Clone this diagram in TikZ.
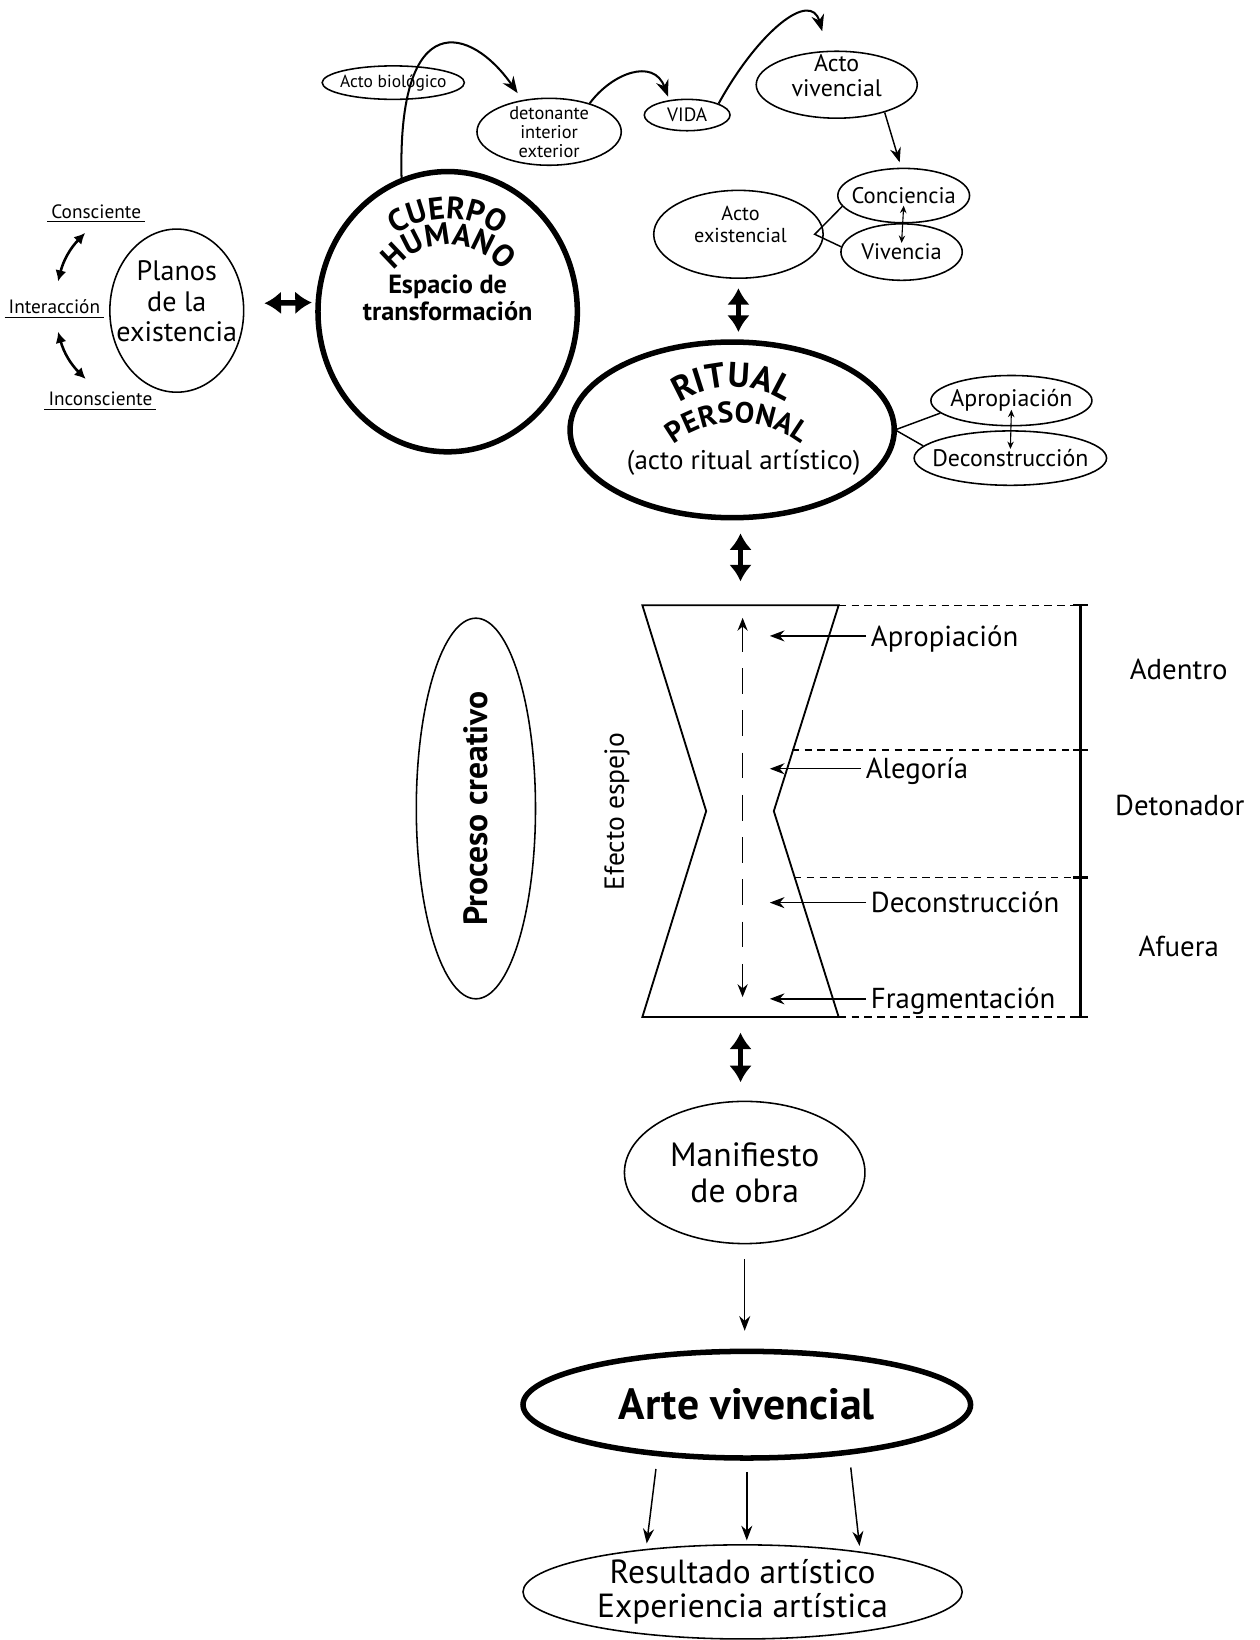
\documentclass[tikz,border=0pt]{standalone}
\usepackage{fontspec}
\setmainfont{PT Sans}
\usetikzlibrary{arrows.meta,shapes.geometric,decorations.text,calc}
\newcommand\fsz[2]{\fontsize{#1}{#2}\selectfont}

\begin{document}
\begin{tikzpicture}[
  x=0.02cm, y=-0.02cm,
  oval/.style={draw, ellipse, line width=0.85pt, inner sep=-6pt, align=center},
  heavy/.style={oval, line width=3pt},
  flow/.style={-{Stealth[length=8pt,width=6pt]}, line width=0.8pt},
  curvy/.style={-{Stealth[length=9pt,width=7pt]}, line width=1.1pt},
  bigflow/.style={{Latex[length=9pt,width=12.5pt]}-{Latex[length=9pt,width=12.5pt]}, line width=3pt},
  sidelink/.style={{Latex[length=6pt,width=6pt]}-{Latex[length=6pt,width=6pt]}, line width=1.4pt},
  twoway/.style={{Stealth[length=4pt,width=3.5pt]}-{Stealth[length=4pt,width=3.5pt]}, line width=0.6pt},
  dashflow/.style={{Stealth[length=7pt,width=5.5pt]}-{Stealth[length=7pt,width=5.5pt]}, dash pattern=on 14pt off 9pt, line width=0.9pt},
  cutline/.style={dash pattern=on 4pt off 3pt, line width=0.8pt},
  brk/.style={line width=1.3pt},
  undl/.style={font=\fsz{10.5}{11}, inner sep=1pt, text height=7.5pt, text depth=0.5pt},
  lbl/.style={anchor=west, inner sep=2.5pt, text height=11pt, text depth=0pt, font=\fsz{15.7}{16}},
  side/.style={font=\fsz{15.7}{16}}
]
\useasboundingbox (0,0) rectangle (1204,1568);

\node[undl] (consc) at (92,203) {Consciente};
\node[undl] (inter) at (52,294) {Interacción};
\node[undl] (incon) at (96,382) {Inconsciente};
\foreach \n in {consc,inter,incon}
  \draw[line width=0.6pt] ([xshift=-1pt]\n.south west) -- ([xshift=1pt]\n.south east);
\draw[sidelink] ([xshift=-6pt,yshift=-6pt]consc.south) to[bend right=15] ([xshift=2pt,yshift=9pt]inter.north);
\draw[sidelink] ([xshift=2pt,yshift=-8pt]inter.south) to[bend right=15] ([xshift=-8pt,yshift=6pt]incon.north);

\node[oval, minimum width=2.56cm, minimum height=3.12cm] (planos) at (169,297) {};
\node[font=\fsz{15.3}{16.5}, align=center] (planostxt) at (169,288) {Planos\\de la\\existencia};
\node[heavy, minimum width=4.96cm, minimum height=5.36cm] (cuerpo) at (428,298) {};
\node[font=\bfseries\fsz{14.3}{14.8}, align=center] (espacio) at (428,285) {Espacio de\\transformación};
\path[decorate, decoration={text along path, text align=center, text={|\bfseries\fsz{17}{17}|CUERPO}}]
  (428,296) ++(170:1.74cm) arc[start angle=170, end angle=10, radius=1.74cm];
\path[decorate, decoration={text along path, text align=center, text={|\bfseries\fsz{17}{17}|HUMANO}}]
  (429,300) ++(170:1.32cm) arc[start angle=170, end angle=10, radius=1.32cm];
\draw[bigflow, shorten <=11pt, shorten >=2pt] (planos.6) -- (cuerpo.176);

\node[oval, minimum width=2.72cm, minimum height=0.64cm, font=\fsz{9.5}{10}] (biolog) at (376,79) {Acto biológico};
\node[oval, minimum width=2.76cm, minimum height=1.28cm, font=\fsz{10}{10.3}] (deton) at (525,126) {detonante\\interior\\exterior};
\node[oval, minimum width=1.64cm, minimum height=0.6cm, font=\fsz{10.5}{11}] (vida) at (657,110) {VIDA};
\node[oval, minimum width=3.08cm, minimum height=1.28cm] (vivencial) at (800,81) {};
\node[font=\fsz{13}{13.7}, align=center] (vivtxt) at (800,72) {Acto\\vivencial};
\node[oval, minimum width=2.52cm, minimum height=1.04cm, font=\fsz{12.3}{13}] (concien) at (864,187) {Conciencia};
\node[oval, minimum width=2.32cm, minimum height=1.08cm, font=\fsz{12.2}{13}] (vivencia) at (862,241) {Vivencia};
\node[oval, minimum width=3.24cm, minimum height=1.68cm] (exist) at (706,224) {};
\node[font=\fsz{11}{12}, align=center] (existtxt) at (708,215) {Acto\\existencial};

\draw[curvy, shorten >=4.5pt] (cuerpo.109) .. controls (380,5) and (450,25) .. (deton.130);
\draw[curvy, shorten >=2pt] (deton.35) .. controls (585,70) and (625,55) .. (vida.140);
\draw[curvy, shorten >=11pt] (vida.20) .. controls (725,30) and (775,-10) .. (vivencial.105);
\draw[flow, shorten >=3pt] (vivencial.-30) -- (concien.95);
\draw[twoway] ([yshift=-5.5pt]concien.center) -- ([yshift=5pt]vivencia.center);
\draw[line width=0.8pt] (concien.190) -- ([xshift=-5pt]exist.east) -- (vivencia.175);

\node[heavy, minimum width=6.2cm, minimum height=3.36cm] (ritual) at (700,411) {};
\draw[bigflow, shorten <=5pt, shorten >=4pt] (exist.south) -- (exist.south |- ritual.north);
\path[decorate, decoration={text along path, text align=center, text={|\bfseries\fsz{19}{19}|RITUAL}}]
  (700,463) ++(160:1.86cm) arc[start angle=160, end angle=20, radius=1.86cm];
\path[decorate, decoration={text along path, text align=center, text={|\bfseries\fsz{16}{16}|PERSONAL}}]
  (705,504) ++(160:2.0cm) arc[start angle=160, end angle=20, radius=2.0cm];
\node[font=\fsz{14.7}{15}] (ritualsub) at (711,442) {(acto ritual artístico)};
\node[oval, minimum width=3.08cm, minimum height=0.96cm, font=\fsz{13}{13}] (apropia) at (967,383) {Apropiación};
\node[oval, minimum width=3.68cm, minimum height=1.04cm, font=\fsz{13}{13}] (decons) at (966,438) {Deconstrucción};
\draw[twoway] ([yshift=-5pt]apropia.center) -- ([yshift=5pt]decons.center);
\draw[line width=0.8pt] (apropia.190) -- ([xshift=-1pt]ritual.east) -- (decons.172);

\node[minimum width=3.74cm, minimum height=7.86cm, inner sep=0pt] (hour) at (708,775.5) {};
\draw[bigflow, shorten <=7pt, shorten >=13pt] (hour.north |- ritual.south) -- (hour.north);
\draw[line width=1pt] (hour.north west) -- (hour.north east) -- ($(hour.east)+(-62,0)$) -- (hour.south east)
  -- (hour.south west) -- ($(hour.west)+(61,0)$) -- cycle;
\draw[dashflow] ($(hour.north)+(2,12)$) -- ($(hour.south)+(2,-19)$);
\node[rotate=90, font=\fsz{15}{15}] (espejo) at (590,776) {Efecto espejo};
\node[oval, rotate=90, minimum width=7.28cm, minimum height=2.28cm, font=\bfseries\fsz{18.3}{19}] (proceso) at (455,773) {Proceso creativo};

\coordinate (bar) at (1033,0);
\coordinate (hx) at (736,0);
\coordinate (cut1) at (757,717);
\coordinate (cut2) at (759,839);
\coordinate (b1) at (hour.north east -| bar);
\coordinate (b2) at (cut1 -| bar);
\coordinate (b3) at (cut2 -| bar);
\coordinate (b4) at (hour.south east -| bar);
\draw[cutline] (hour.north east) -- (b1);
\draw[cutline] (cut1) -- (b2);
\draw[cutline] (cut2) -- (b3);
\draw[cutline] (hour.south east) -- (b4);
\draw[brk] (b1) -- (b4);
\foreach \b in {b1,b2,b3,b4}
  \draw[brk] ([xshift=-4pt]\b) -- ([xshift=4pt]\b);
\node[side] (adentro) at (1127,640) {Adentro};
\node[side] (detonador) at (1128,770) {Detonador};
\node[side] (afuera) at (1127,905) {Afuera};

\node[lbl] (lapro) at (828,608) {Apropiación};
\node[lbl] (lalego) at (823,735) {Alegoría};
\node[lbl] (ldecons) at (828,863) {Deconstrucción};
\node[lbl] (lfrag) at (828,955) {Fragmentación};
\foreach \n in {lapro,lalego,ldecons,lfrag}
  \draw[flow] (\n.west) -- (\n.west -| hx);

\node[oval, minimum width=4.6cm, minimum height=2.72cm, font=\fsz{18.3}{19.5}] (manif) at (712,1121) {Manifiesto\\de obra};
\draw[bigflow, shorten <=8.5pt, shorten >=10pt] (hour.south) -- (hour.south |- manif.north);
\node[heavy, minimum width=8.56cm, minimum height=2.04cm, font=\bfseries\fsz{23.8}{24}] (arte) at (714,1343) {Arte vivencial};
\draw[flow, shorten <=8pt, shorten >=9.7pt] (manif.south) -- (manif.south |- arte.north);
\node[oval, minimum width=8.4cm, minimum height=1.8cm, font=\fsz{18.2}{18.8}] (result) at (710,1522) {Resultado artístico\\Experiencia artística};
\draw[flow, shorten <=7pt, shorten >=3pt] (arte.210) -- (result.156);
\draw[flow, shorten <=6pt, shorten >=2pt] (arte.south) -- (arte.south |- result.north);
\draw[flow, shorten <=7pt, shorten >=3pt] (arte.-26) -- (result.19);
\end{tikzpicture}
\end{document}
